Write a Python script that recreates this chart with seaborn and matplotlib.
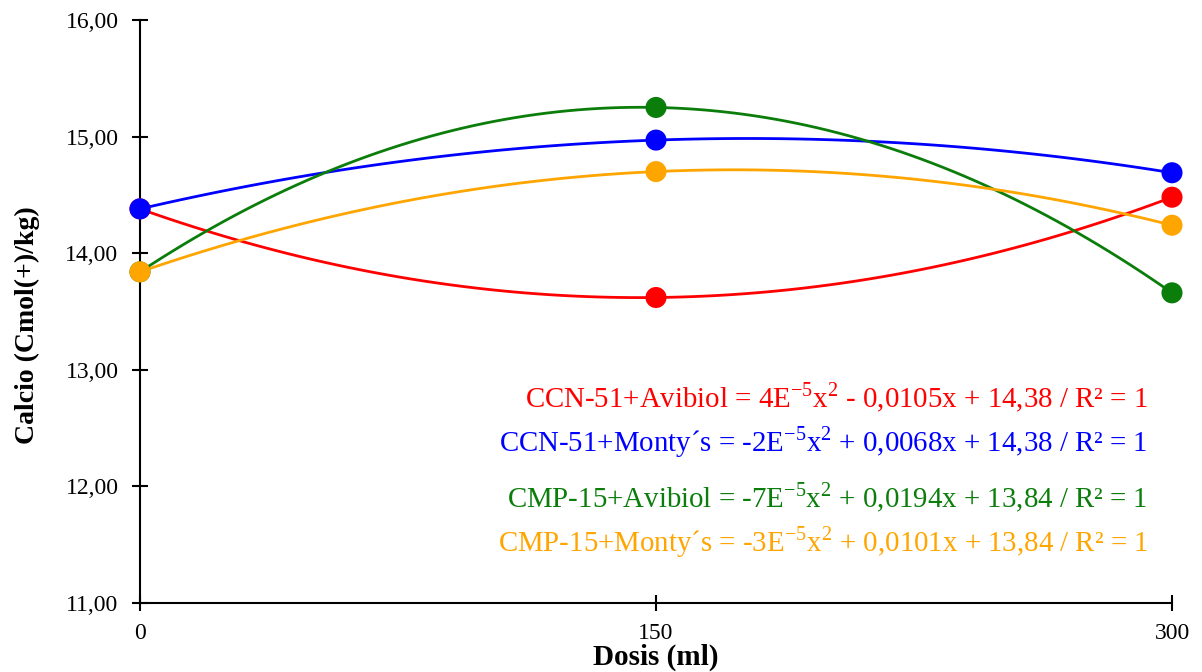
import pandas as pd
import matplotlib
matplotlib.use("Agg")
import matplotlib.pyplot as plt
from matplotlib.ticker import FuncFormatter
import seaborn as sns

# data
dosis = [0, 150, 300]
ccn51_avibiol = [14.38, 13.62, 14.48]
ccn51_montys = [14.38, 14.97, 14.69]
cmp15_avibiol = [13.84, 15.25, 13.66]
cmp15_montys = [13.84, 14.70, 14.24]

series_names = ["CCN-51+Avibiol", "CCN-51+Monty´s", "CMP-15+Avibiol", "CMP-15+Monty´s"]
series_values = [ccn51_avibiol, ccn51_montys, cmp15_avibiol, cmp15_montys]
series_colors = ["#ff0000", "#0000ff", "#0b7d0b", "#ffa500"]
equations = [
    "= 4E$^{\\mathregular{-5}}$x$^{\\mathregular{2}}$ - 0,0105x + 14,38 / R² = 1",
    "= -2E$^{\\mathregular{-5}}$x$^{\\mathregular{2}}$ + 0,0068x + 14,38 / R² = 1",
    "= -7E$^{\\mathregular{-5}}$x$^{\\mathregular{2}}$ + 0,0194x + 13,84 / R² = 1",
    "= -3E$^{\\mathregular{-5}}$x$^{\\mathregular{2}}$ + 0,0101x + 13,84 / R² = 1",
]

df = pd.DataFrame({
    "Dosis": dosis * len(series_names),
    "Calcio": [v for vals in series_values for v in vals],
    "Tratamiento": [n for n in series_names for _ in dosis],
})

sns.set_theme(style="white")
plt.rcParams["font.family"] = ["Liberation Serif", "DejaVu Serif"]
plt.rcParams["mathtext.fontset"] = "custom"
plt.rcParams["mathtext.rm"] = "Liberation Serif"

fig, ax = plt.subplots(figsize=(12.02, 6.72), dpi=100)
fig.subplots_adjust(left=140 / 1202, right=1172 / 1202, top=1 - 20 / 672, bottom=1 - 603 / 672)

for name, color in zip(series_names, series_colors):
    sub = df[df["Tratamiento"] == name]
    sns.regplot(data=sub, x="Dosis", y="Calcio", order=2, ci=None, scatter=False,
                color=color, line_kws={"linewidth": 2.0}, ax=ax)

for name, color in zip(series_names, series_colors):
    sub = df[df["Tratamiento"] == name]
    sns.scatterplot(data=sub, x="Dosis", y="Calcio", color=color, s=230,
                    edgecolor="none", ax=ax, zorder=5, clip_on=False)

# trendline equations
text_y = [12.76, 12.38, 11.90, 11.52]
for name, eq, color, ty in zip(series_names, equations, series_colors, text_y):
    ax.text(293, ty, f"{name} {eq}", color=color, fontsize=20.8,
            ha="right", va="center")

ax.set_xlim(0, 300)
ax.set_ylim(11, 16)
ax.set_xticks(dosis)
ax.set_yticks([11, 12, 13, 14, 15, 16])
ax.yaxis.set_major_formatter(FuncFormatter(lambda v, p: f"{v:.2f}".replace(".", ",")))

sns.despine(ax=ax)
for side in ["left", "bottom"]:
    ax.spines[side].set_color("black")
    ax.spines[side].set_linewidth(1.5)

ax.tick_params(axis="both", direction="inout", length=11, width=1.5, colors="black",
               labelsize=17, left=True, bottom=True)
ax.tick_params(axis="y", pad=10)
ax.tick_params(axis="x", pad=9)

ax.set_xlabel("Dosis (ml)", fontsize=21, fontweight="bold", color="black", labelpad=0)
ax.set_ylabel("Calcio (Cmol(+)/kg)", fontsize=20, fontweight="bold", color="black")
ax.yaxis.set_label_coords(-0.097, 0.477)

fig.savefig("out.png", dpi=100, facecolor="white")
